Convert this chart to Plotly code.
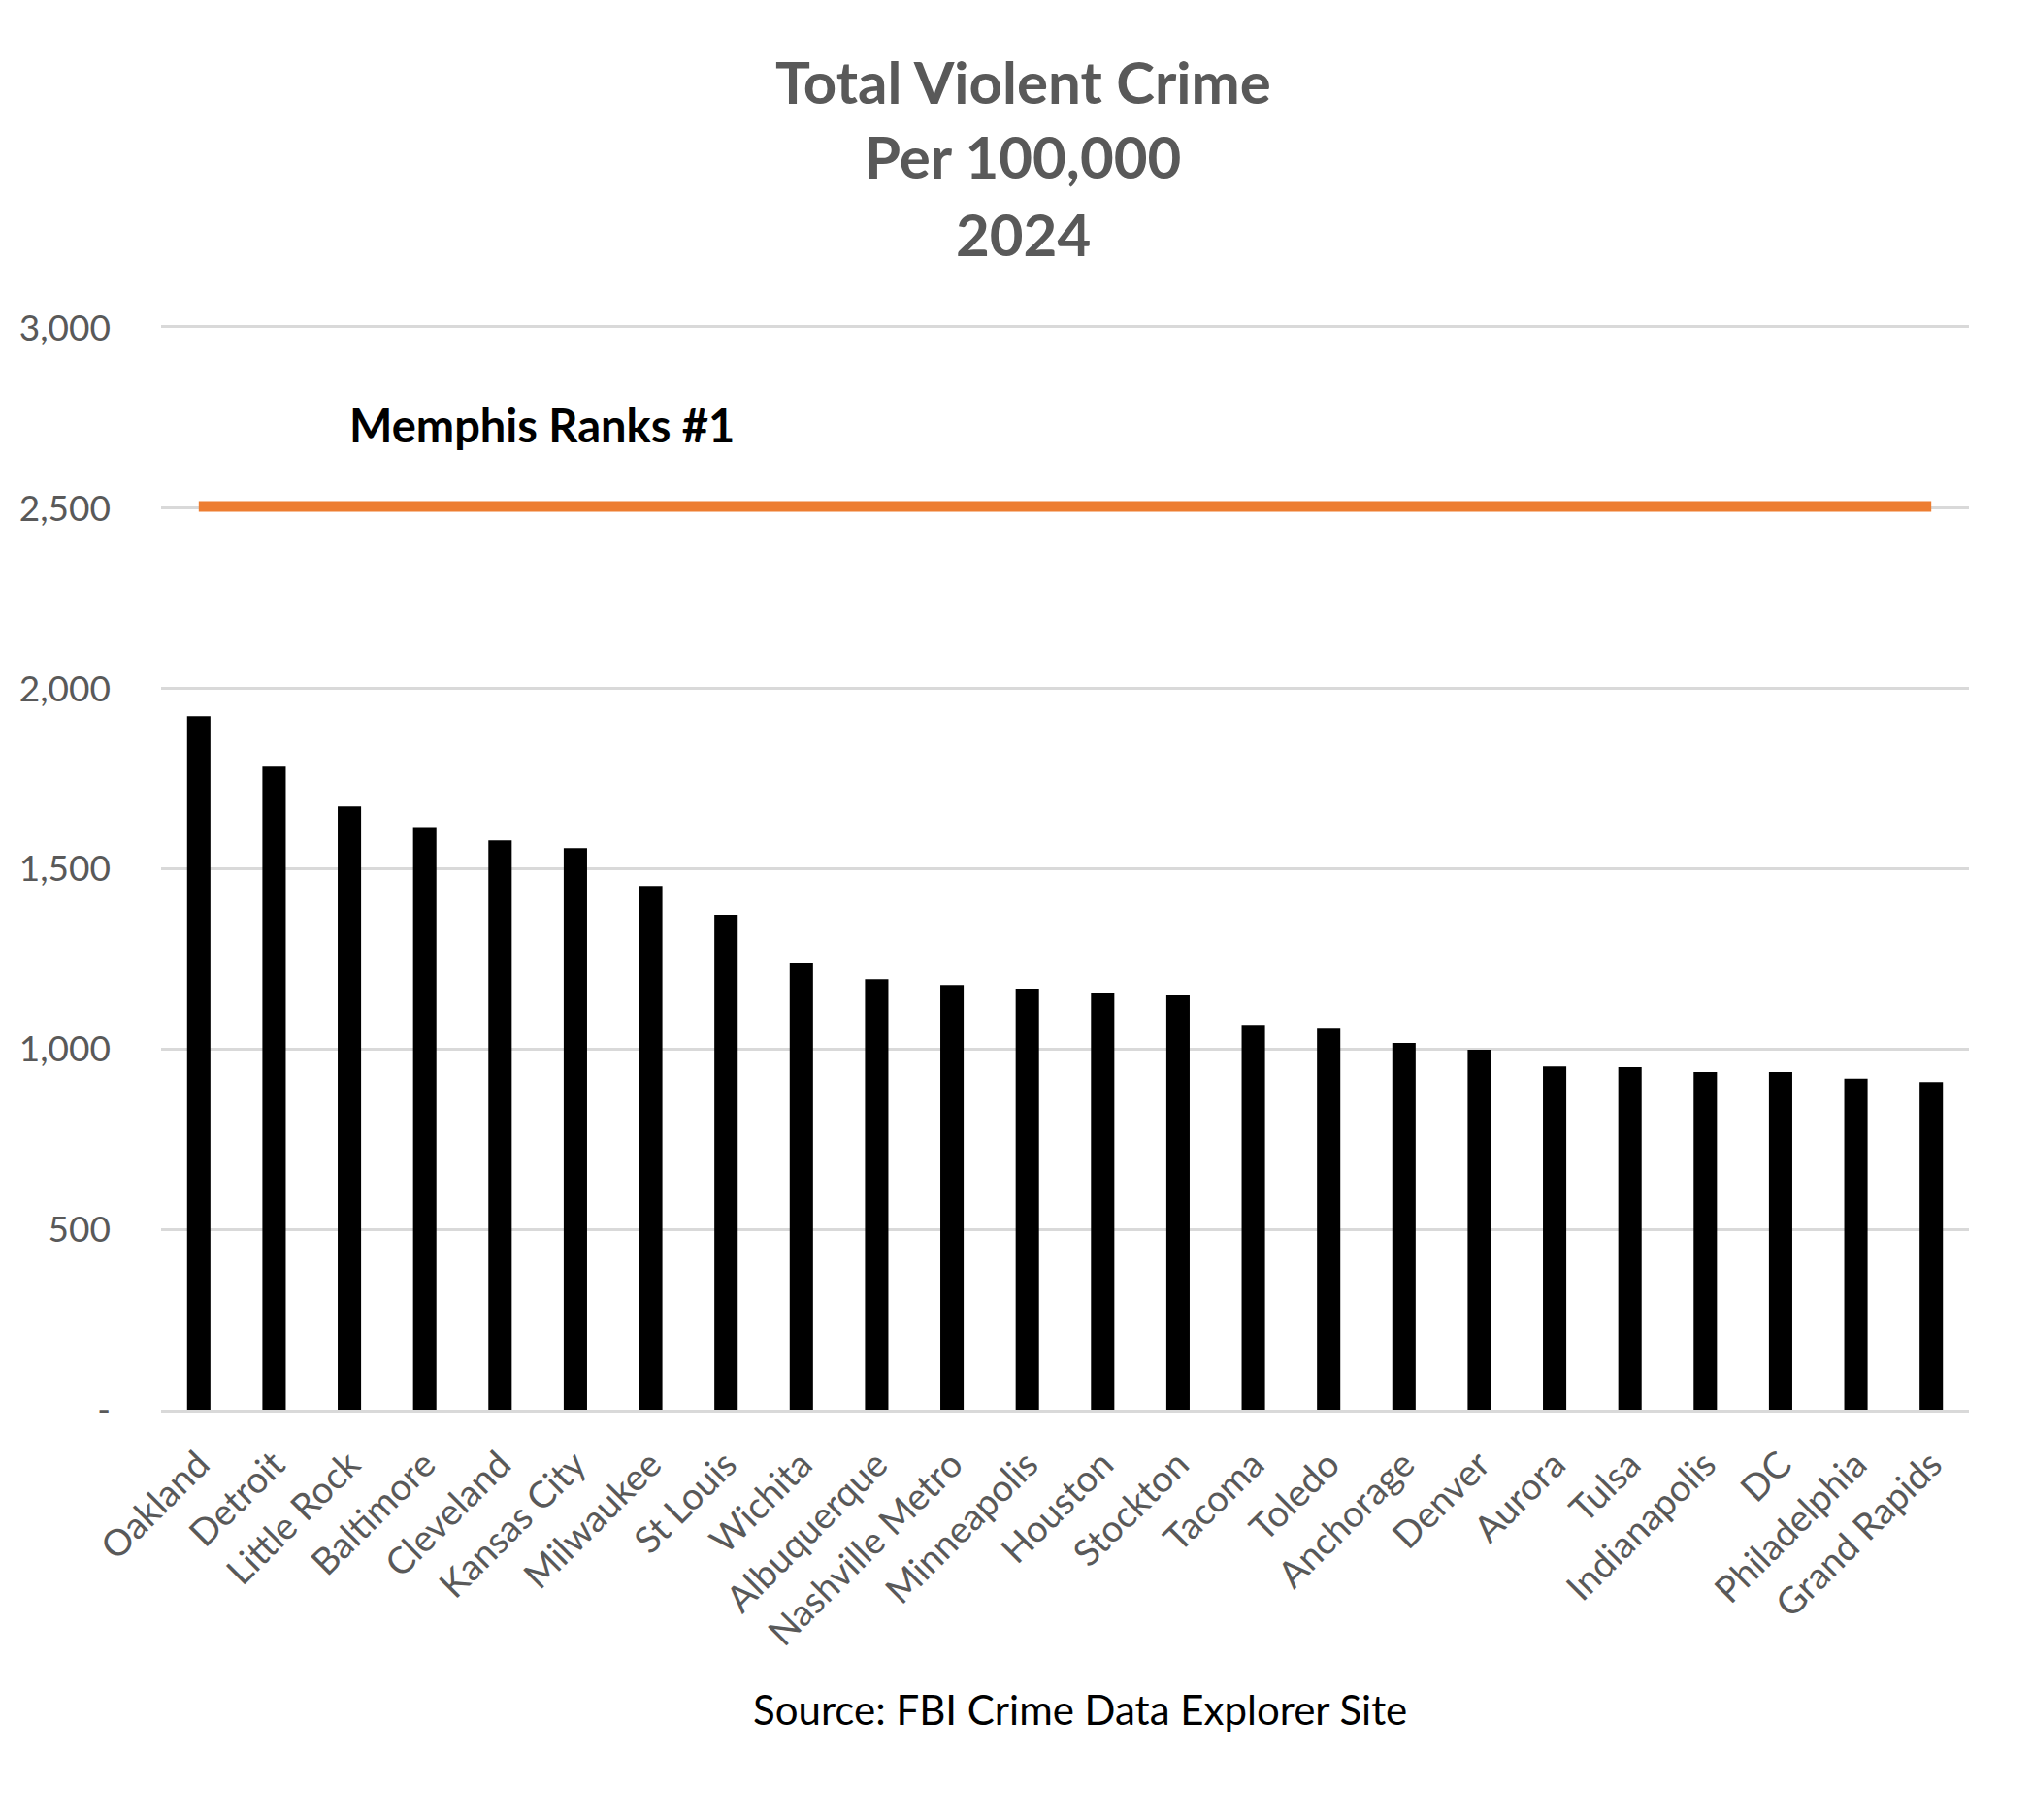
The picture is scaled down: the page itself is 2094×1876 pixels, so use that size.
import plotly.graph_objects as go

# cities ranked by violent crime rate (per 100,000), 2024
cities = [
    "Oakland", "Detroit", "Little Rock", "Baltimore", "Cleveland", "Kansas City",
    "Milwaukee", "St Louis", "Wichita", "Albuquerque", "Nashville Metro",
    "Minneapolis", "Houston", "Stockton", "Tacoma", "Toledo", "Anchorage",
    "Denver", "Aurora", "Tulsa", "Indianapolis", "DC", "Philadelphia",
    "Grand Rapids",
]
rates = [
    1923, 1783, 1673, 1616, 1579, 1557, 1452, 1372, 1238, 1194, 1178, 1168,
    1154, 1149, 1065, 1057, 1017, 998, 952, 950, 936, 936, 918, 909,
]
memphis_rate = 2505

y_ticks = [0, 500, 1000, 1500, 2000, 2500, 3000]
y_tick_text = ["-", "500", "1,000", "1,500", "2,000", "2,500", "3,000"]

title_lines = ["Total Violent Crime", "Per 100,000", "2024"]

GRAY = "#595959"
GRID = "#D9D9D9"
FONT = "Lato"


def main():
    fig = go.Figure()

    fig.add_trace(
        go.Bar(x=cities, y=rates, marker=dict(color="#000000", line=dict(width=0)))
    )
    fig.add_trace(
        go.Scatter(
            x=cities,
            y=[memphis_rate] * len(cities),
            mode="lines",
            line=dict(color="#ED7D31", width=11),
        )
    )

    fig.update_layout(
        width=2094,
        height=1876,
        paper_bgcolor="white",
        plot_bgcolor="white",
        showlegend=False,
        bargap=0.69,
        margin=dict(l=158, r=73, t=330, b=431),
        font=dict(family=FONT, color=GRAY),
    )

    fig.update_xaxes(
        tickangle=-45,
        tickfont=dict(family=FONT, size=38, color=GRAY),
        showgrid=False,
        showline=True,
        mirror=True,
        linecolor=GRID,
        linewidth=3,
        ticks="",
        ticklabelstandoff=16,
    )
    fig.update_yaxes(
        range=[0, 3000],
        tickvals=y_ticks,
        ticktext=y_tick_text,
        tickfont=dict(family=FONT, size=37, color=GRAY),
        showgrid=True,
        gridcolor=GRID,
        gridwidth=3,
        zeroline=False,
        ticks="",
        ticklabelstandoff=51,
    )

    # three-line chart title, placed line by line (pixel rows 76, 153, 233)
    for line, ypx in zip(title_lines, [76, 153, 233]):
        fig.add_annotation(
            text=f"<b>{line}</b>",
            xref="paper",
            yref="paper",
            x=(1046 - 158) / 1863,
            y=(1445 - ypx) / 1115,
            xanchor="center",
            yanchor="middle",
            showarrow=False,
            font=dict(family=FONT, size=60, color=GRAY),
        )

    fig.add_annotation(
        text="<b>Memphis Ranks #1</b>",
        xref="paper",
        yref="y",
        x=(550 - 158) / 1863,
        y=2730,
        xanchor="center",
        yanchor="middle",
        showarrow=False,
        font=dict(family=FONT, size=47, color="#000000"),
    )
    fig.add_annotation(
        text="Source: FBI Crime Data Explorer Site",
        xref="paper",
        yref="paper",
        x=(1105 - 158) / 1863,
        y=(1445 - 1754) / 1115,
        xanchor="center",
        yanchor="middle",
        showarrow=False,
        font=dict(family=FONT, size=42, color="#000000"),
    )

    fig.write_html("out.html")


if __name__ == "__main__":
    main()
